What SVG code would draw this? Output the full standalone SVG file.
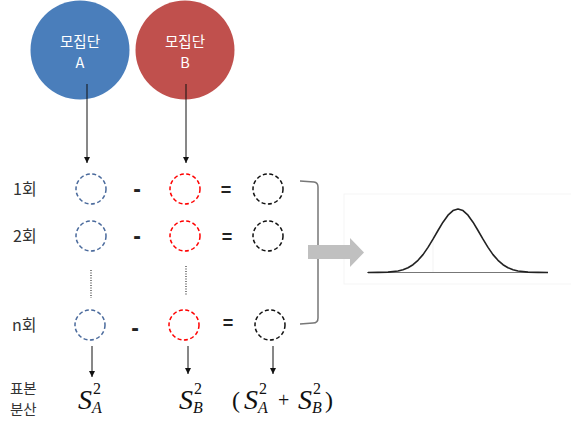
<svg xmlns="http://www.w3.org/2000/svg" width="571" height="428" viewBox="0 0 571 428">
<defs>
<style>
.lbl{font-family:"Noto Sans CJK KR","Noto Sans",sans-serif;font-size:16px;fill:#333}
.lbl2{font-family:"Noto Sans CJK KR","Noto Sans",sans-serif;font-size:14.5px;fill:#333}
.pop{font-family:"Noto Sans CJK KR","Noto Sans",sans-serif;font-size:14.5px;fill:#fff;text-anchor:middle}
.dc{fill:none;stroke-width:1.5;stroke-dasharray:4 2.5}
.op{font-family:"Liberation Sans",sans-serif;font-size:18px;font-weight:bold;fill:#222;text-anchor:middle}
.mi{font-family:"Liberation Sans",sans-serif;font-size:23px;font-weight:bold;fill:#222;text-anchor:middle}
.m{font-family:"Liberation Serif",serif;fill:#111}
.ln{stroke:#111;stroke-width:1;fill:none}
.dot{stroke:#333;stroke-width:1.2;stroke-dasharray:1 1.5;fill:none}
</style>
<marker id="ah" markerWidth="8" markerHeight="8" refX="6" refY="3" orient="auto" markerUnits="userSpaceOnUse">
<path d="M0,0 L6,3 L0,6 Z" fill="#111"/>
</marker>
</defs>
<rect width="571" height="428" fill="#fff"/>
<g id="popA">
<circle cx="80" cy="50" r="49.5" fill="#4a7ebb"/>
<text class="pop" x="80" y="47">모집단</text>
<text class="pop" x="80" y="68">A</text>
</g>
<g id="popB">
<circle cx="185" cy="50" r="49.5" fill="#c0504d"/>
<text class="pop" x="185" y="47">모집단</text>
<text class="pop" x="185" y="68">B</text>
</g>
<g id="labels">
<text class="lbl" x="13" y="195">1회</text>
<text class="lbl" x="13" y="242">2회</text>
<text class="lbl" x="12" y="331">n회</text>
<text class="lbl2" x="10" y="394">표본</text>
<text class="lbl2" x="10" y="415">분산</text>
</g>
<g id="row1">
<circle class="dc" cx="91" cy="189" r="15" stroke="#4a6a9c"/>
<circle class="dc" cx="185" cy="189" r="15" stroke="#ff0000"/>
<circle class="dc" cx="268" cy="189" r="15" stroke="#111"/>
<text class="mi" x="137" y="197">-</text>
<text class="op" x="226" y="196">=</text>
</g>
<g id="row2">
<circle class="dc" cx="91" cy="236" r="15" stroke="#4a6a9c"/>
<circle class="dc" cx="185" cy="236" r="15" stroke="#ff0000"/>
<circle class="dc" cx="268" cy="236" r="15" stroke="#111"/>
<text class="mi" x="137" y="244">-</text>
<text class="op" x="227" y="243">=</text>
</g>
<g id="rowN">
<circle class="dc" cx="90" cy="325" r="15" stroke="#4a6a9c"/>
<circle class="dc" cx="184" cy="325" r="15" stroke="#ff0000"/>
<circle class="dc" cx="270" cy="325" r="15" stroke="#111"/>
<text class="mi" x="135" y="336">-</text>
<text class="op" x="228" y="329">=</text>
</g>
<g id="bell">
<rect x="344" y="194" width="230" height="90" fill="none" stroke="#f5f5f5" stroke-width="1"/>
<line x1="433" y1="232" x2="433" y2="272" stroke="#f3f3f3" stroke-width="1"/>
<line x1="367" y1="272.5" x2="548" y2="272.5" stroke="#777" stroke-width="1.2"/>
<path d="M368,272.5 L378,272.4 L388,272.1 L398,271 L403,269.7 L408,267.7 L413,264.7 L418,260.3 L423,254.6 L428,247.4 L433,239.2 L438,230.5 L443,222.2 L448,215.2 L453,210.6 L458,209 L463,210.6 L468,215.2 L473,222.2 L478,230.5 L483,239.2 L488,247.4 L493,254.6 L498,260.3 L503,264.7 L508,267.7 L513,269.7 L518,271 L528,272.1 L538,272.4 L548,272.5" fill="none" stroke="#222" stroke-width="1.6" stroke-linejoin="round"/>
</g>
<g id="connectors">
<line class="ln" x1="87" y1="84" x2="87" y2="163" marker-end="url(#ah)"/>
<line class="ln" x1="186" y1="84" x2="186" y2="163" marker-end="url(#ah)"/>
<line class="dot" x1="91" y1="270" x2="91" y2="298"/>
<line class="dot" x1="186" y1="266" x2="186" y2="295"/>
<line class="ln" x1="92" y1="346" x2="92" y2="377" marker-end="url(#ah)"/>
<line class="ln" x1="188" y1="346" x2="188" y2="374" marker-end="url(#ah)"/>
<line class="ln" x1="273" y1="346" x2="273" y2="374" marker-end="url(#ah)"/>
<path d="M300,181 L314,182 Q318,182.5 318,187 L318,318 Q318,323 313,323 L300,324" fill="none" stroke="#777" stroke-width="1.5"/>
<path d="M308,245 L350,245 L350,238 L364,252.5 L350,267 L350,259 L308,259 Z" fill="#c0c0c0"/>
</g>
<g id="formulas" class="m">
<text x="78" y="409" font-size="28" font-style="italic">S</text>
<text x="93" y="394" font-size="16">2</text>
<text x="92" y="413" font-size="16" font-style="italic">A</text>
<text x="179" y="409" font-size="28" font-style="italic">S</text>
<text x="194" y="394" font-size="16">2</text>
<text x="193" y="413" font-size="16" font-style="italic">B</text>
<text x="232" y="408" font-size="24">(</text>
<text x="244" y="409" font-size="28" font-style="italic">S</text>
<text x="259" y="394" font-size="16">2</text>
<text x="258" y="413" font-size="16" font-style="italic">A</text>
<text x="278" y="407" font-size="20">+</text>
<text x="298" y="409" font-size="28" font-style="italic">S</text>
<text x="313" y="394" font-size="16">2</text>
<text x="312" y="413" font-size="16" font-style="italic">B</text>
<text x="325" y="408" font-size="24">)</text>
</g>
</svg>
